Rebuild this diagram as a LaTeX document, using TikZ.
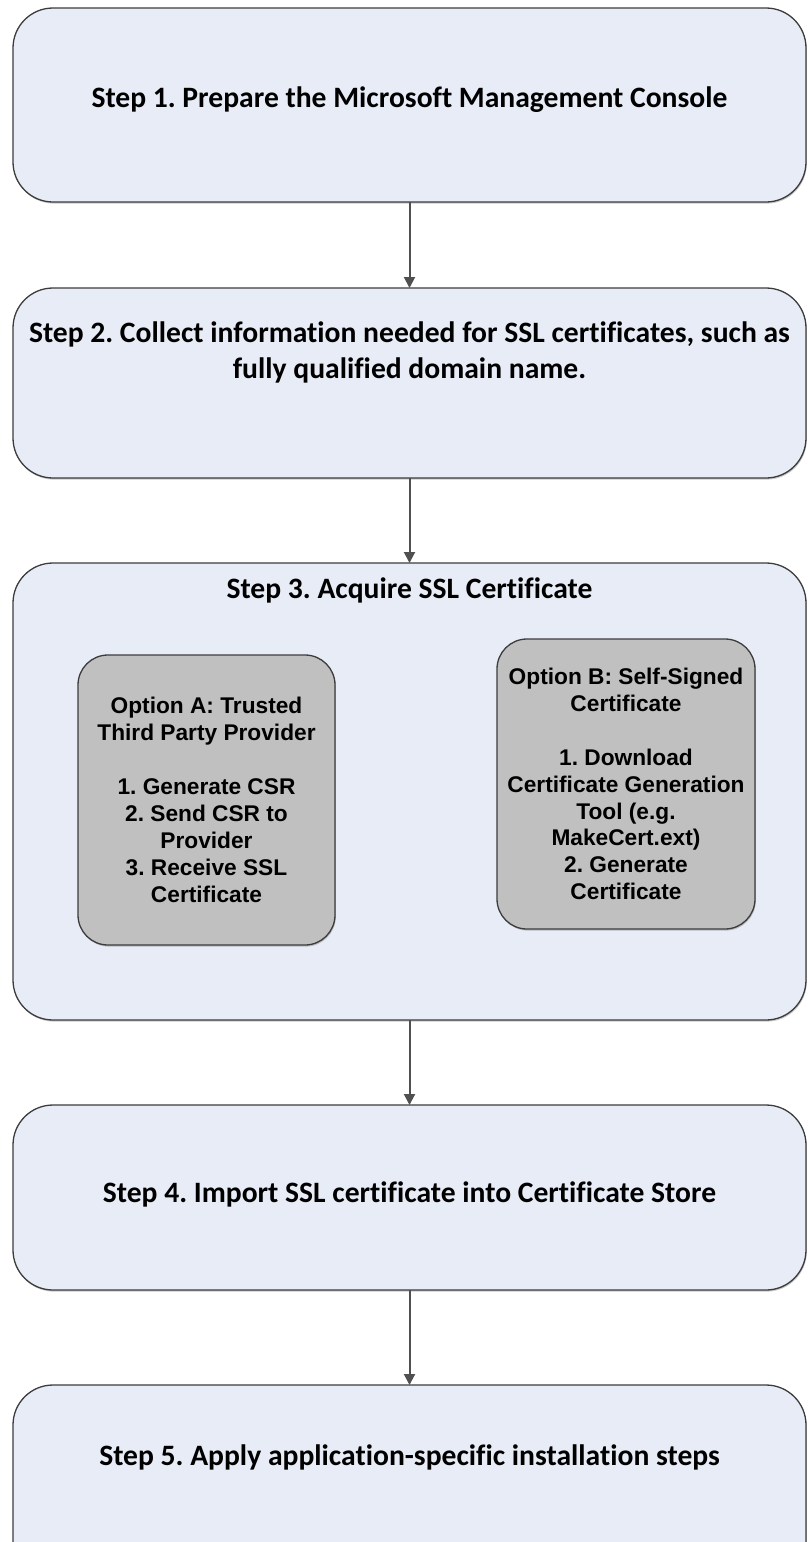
\documentclass[tikz,border=0pt]{standalone}
\usepackage{fontspec}
\setmainfont[Ligatures=CommonOff]{Carlito}
\newfontfamily\arialfont{Liberation Sans}
\frenchspacing
\usetikzlibrary{arrows.meta,shadows}
\definecolor{stepfill}{RGB}{232,236,246}
\definecolor{optfill}{RGB}{192,192,192}
\definecolor{edgecol}{RGB}{60,60,60}
\definecolor{arrowcol}{RGB}{80,80,80}
\begin{document}
\begin{tikzpicture}[x=1pt,y=-1pt,
  stepfont/.style={font=\fontsize{29.6}{36}\selectfont\bfseries},
  softshadow/.style={drop shadow={shadow xshift=0.8pt, shadow yshift=-1.6pt, opacity=0.35, fill=black!60}},
  stepbox/.style={draw=edgecol, line width=1.3pt, fill=stepfill, rounded corners=40pt,
    inner sep=0pt, outer sep=0pt, align=center, stepfont, softshadow},
  optbox/.style={draw=edgecol, line width=1.3pt, fill=optfill, rounded corners=30pt,
    inner sep=0pt, outer sep=0pt, align=center, softshadow,
    font=\arialfont\fontsize{22.7}{26.9}\selectfont\bfseries},
  flow/.style={draw=arrowcol, line width=2pt, -{Triangle[length=11pt,width=11pt]}}
]
\useasboundingbox (0,0) rectangle (807,1542);
\begin{scope}
\clip (0,0) rectangle (807,1542);
\node[stepbox, minimum width=793pt, minimum height=194pt] (s1) at (409.5,105) {};
\node[stepfont] (s1t) at (409.5,100) {Step 1. Prepare the Microsoft Management Console};
\node[stepbox, minimum width=793pt, minimum height=190pt] (s2) at (409.5,383) {};
\node[stepfont, align=center] (s2t) at (409.5,352) {Step 2. Collect information needed for SSL certificates, such as\\fully qualified domain name.};
\node[stepbox, minimum width=793pt, minimum height=457pt] (s3) at (409.5,791.5) {};
\node[stepfont] (s3t) at (409.5,590) {Step 3. Acquire SSL Certificate};
\node[optbox, minimum width=257pt, minimum height=290pt] (oa) at (206.5,800) {Option A: Trusted\\Third Party Provider\\[26.9pt]1. Generate CSR\\2. Send CSR to\\Provider\\3. Receive SSL\\Certificate};
\node[optbox, minimum width=258pt, minimum height=290pt] (ob) at (626,784) {Option B: Self-Signed\\Certificate\\[26.9pt]1. Download\\Certificate Generation\\Tool (e.g.\\MakeCert.ext)\\2. Generate\\Certificate};
\node[stepbox, minimum width=793pt, minimum height=185pt] (s4) at (409.5,1197.5) {};
\node[stepfont] (s4t) at (409.5,1194) {Step 4. Import SSL certificate into Certificate Store};
\node[stepbox, minimum width=793pt, minimum height=210pt, anchor=north] (s5) at (409.5,1385) {};
\node[stepfont] (s5t) at (409.5,1457) {Step 5. Apply application-specific installation steps};
\draw[flow] (s1.south) -- (s2.north);
\draw[flow] (s2.south) -- (s3.north);
\draw[flow] (s3.south) -- (s4.north);
\draw[flow] (s4.south) -- (s5.north);
\end{scope}
\end{tikzpicture}
\end{document}
